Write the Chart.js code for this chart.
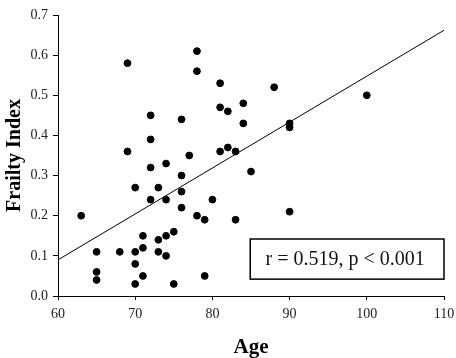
<!DOCTYPE html>
<html>
<head>
<meta charset="utf-8">
<script src="https://cdn.jsdelivr.net/npm/chart.js@4"></script>
<style>
  html, body { margin: 0; padding: 0; background: #fff; }
  #wrap { width: 456px; height: 358px; }
</style>
</head>
<body>
<div id="wrap"><canvas id="chart" width="456" height="358"></canvas></div>
<script>
// ages and frailty index
const ages = [69, 72, 72, 69, 72, 63, 70, 73, 72, 65, 65, 65, 68, 70, 70, 70, 71, 71, 71, 73, 73,
  78, 78, 81, 88, 81, 82, 84, 84, 90, 90, 76, 77, 74, 76, 81, 82, 83, 85, 76, 74, 76, 80, 78, 79,
  83, 90, 74, 75, 74, 75, 79, 100];
const frailty = [0.58, 0.45, 0.39, 0.36, 0.32, 0.20, 0.27, 0.27, 0.24, 0.11, 0.06, 0.04, 0.11, 0.11, 0.08, 0.03, 0.15, 0.12, 0.05, 0.14, 0.11,
  0.61, 0.56, 0.53, 0.52, 0.47, 0.46, 0.48, 0.43, 0.43, 0.42, 0.44, 0.35, 0.33, 0.30, 0.36, 0.37, 0.36, 0.31, 0.26, 0.24, 0.22, 0.24, 0.20, 0.19,
  0.19, 0.21, 0.15, 0.16, 0.10, 0.03, 0.05, 0.50];

// fitted line end points
const fitX = [60, 110];
const fitY = [0.09, 0.662];

const statsText = "r = 0.519, p < 0.001";
// box corners in data units: [x0, x1], [yTop, yBottom]
const boxX = [84.9, 110];
const boxY = [0.142, 0.042];

const serif = "'Liberation Serif', 'DejaVu Serif', serif";

const statsBox = {
  id: "statsBox",
  afterDatasetsDraw(chart) {
    const { ctx, scales: { x, y } } = chart;
    const x0 = x.getPixelForValue(boxX[0]), x1 = x.getPixelForValue(boxX[1]);
    const y0 = y.getPixelForValue(boxY[0]), y1 = y.getPixelForValue(boxY[1]);
    ctx.save();
    ctx.fillStyle = "#fff";
    ctx.fillRect(x0, y0, x1 - x0, y1 - y0);
    ctx.strokeStyle = "#000";
    ctx.lineWidth = 1.5;
    ctx.strokeRect(x0, y0, x1 - x0, y1 - y0);
    ctx.fillStyle = "#111";
    ctx.font = "20px " + serif;
    ctx.textAlign = "center";
    ctx.textBaseline = "middle";
    ctx.fillText(statsText, (x0 + x1) / 2 - 2, (y0 + y1) / 2 + 1);
    ctx.restore();
  }
};

new Chart(document.getElementById("chart").getContext("2d"), {
  type: "scatter",
  data: {
    datasets: [
      {
        data: ages.map((a, i) => ({ x: a, y: frailty[i] })),
        backgroundColor: "#000",
        borderColor: "#000",
        pointRadius: 3.4,
        pointHoverRadius: 3.4
      },
      {
        type: "line",
        data: fitX.map((a, i) => ({ x: a, y: fitY[i] })),
        borderColor: "#000",
        borderWidth: 1,
        pointRadius: 0,
        fill: false
      }
    ]
  },
  plugins: [statsBox],
  options: {
    responsive: false,
    animation: false,
    layout: { padding: { top: 15, right: 12, left: 0, bottom: 0 } },
    plugins: { legend: { display: false }, tooltip: { enabled: false } },
    scales: {
      x: {
        type: "linear",
        min: 60, max: 110,
        afterFit(s) { s.height = 62; s.paddingLeft = 0; s.paddingRight = 0; },
        ticks: { stepSize: 10, color: "#222", padding: 6, font: { family: serif, size: 14 } },
        grid: { drawOnChartArea: false, drawTicks: true, tickLength: 4, tickColor: "#000" },
        border: { display: true, color: "#000", width: 1 },
        title: { display: true, text: "Age", color: "#000", padding: { top: 0, bottom: 0 },
          font: { family: serif, size: 21, weight: "bold", lineHeight: 1 } }
      },
      y: {
        min: 0, max: 0.7,
        afterFit(s) { s.width = 58; s.paddingTop = 0; s.paddingBottom = 0; },
        ticks: { stepSize: 0.1, color: "#222", padding: 5, font: { family: serif, size: 14 },
          callback: v => v.toFixed(1) },
        grid: { drawOnChartArea: false, drawTicks: true, tickLength: 5, tickColor: "#000" },
        border: { display: true, color: "#000", width: 1 },
        title: { display: true, text: "Frailty Index", color: "#000", padding: { top: 3, bottom: 0 },
          font: { family: serif, size: 20, weight: "bold" } }
      }
    }
  }
});
</script>
</body>
</html>
